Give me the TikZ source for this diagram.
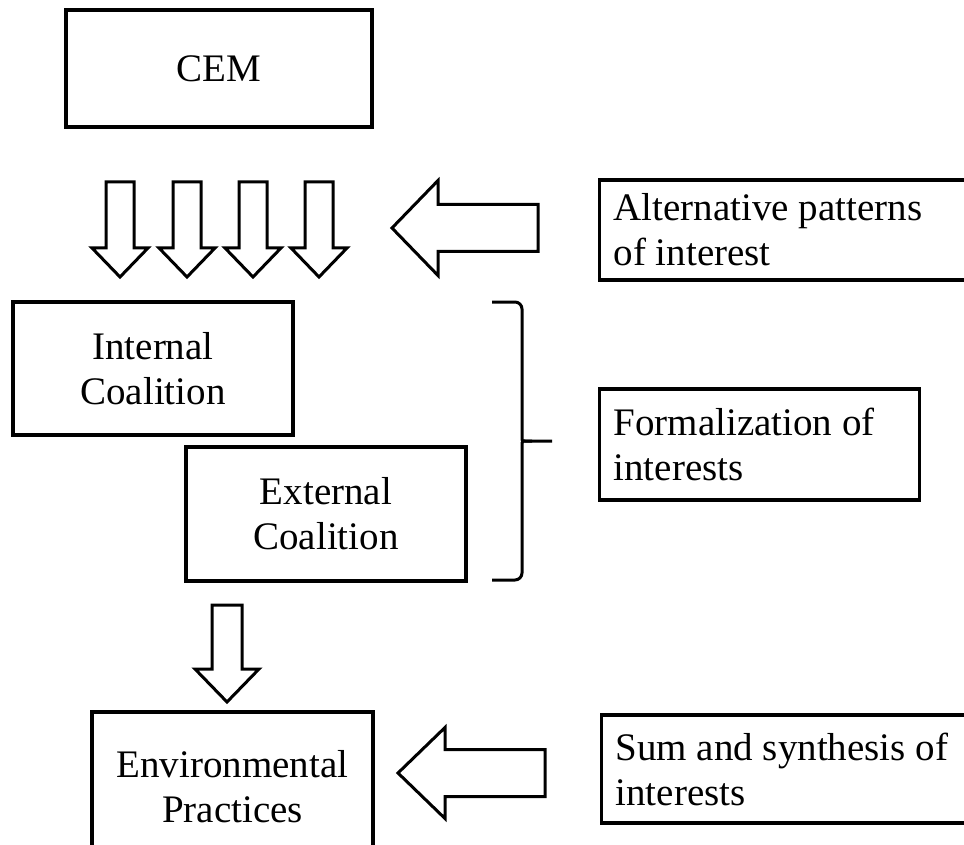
\documentclass[tikz,border=0pt]{standalone}
\usepackage{fontspec}
\setmainfont{Liberation Serif}
\usepackage{tikz}

\begin{document}
\begin{tikzpicture}[x=1pt, y=-1pt,
    every node/.style={font=\fontsize{39}{45}\selectfont},
    box/.style={draw, line width=3.2pt, inner sep=0pt, align=center},
    sidebox/.style={draw, line width=3.2pt, inner xsep=14pt, inner ysep=0pt, align=flush left, text width=354pt, minimum width=382pt},
    blockline/.style={draw, line width=3pt, fill=white, line join=miter},
    bracestyle/.style={draw, line width=3pt, rounded corners=7pt},
    pics/downblock/.style args={#1/#2/#3/#4}{code={
      \draw[blockline] (-#1,0) -- (-#1,#3-#4) -- (-#2,#3-#4) -- (0,#3) -- (#2,#3-#4) -- (#1,#3-#4) -- (#1,0) -- cycle;}},
    pics/leftblock/.style args={#1/#2/#3/#4}{code={
      \draw[blockline] (0,0) -- (#4,-#2) -- (#4,-#1) -- (#3,-#1) -- (#3,#1) -- (#4,#1) -- (#4,#2) -- cycle;}}]
  \clip (0,0) rectangle (964,845);

  % left column
  \node[box, minimum width=306pt, minimum height=117pt] (cem) at (219,68.5) {CEM};
  \node[box, minimum width=280pt, minimum height=133pt] (intc) at (153,368.5) {Internal\\Coalition};
  \node[box, minimum width=280pt, minimum height=134pt] (extc) at (326,514) {External\\Coalition};
  \node[box, minimum width=281pt, minimum height=150pt] (envp) at (232.5,787) {Environmental\\Practices};

  % right column
  \node[sidebox, minimum height=100pt, anchor=west] (altp) at (598,230) {Alternative patterns\\of interest};
  \node[sidebox, text width=292pt, minimum width=320pt, minimum height=111pt, anchor=west] (form) at (598,444.5) {Formalization of\\interests};
  \node[sidebox, minimum height=108pt, anchor=west] (sums) at (600,769) {Sum and synthesis of\\interests};

  % block arrows
  \pic at (120,182) {downblock={14/28/95/29}};
  \pic at (187,182) {downblock={14/28/95/29}};
  \pic at (253,182) {downblock={14/28/95/29}};
  \pic at (319,182) {downblock={14/28/95/29}};
  \pic at (392,228) {leftblock={23.5/47.5/146/46}};
  \pic at (227,605) {downblock={15/32/97/33}};
  \pic at (398,773) {leftblock={23.5/45.5/147/47}};

  % brace
  \coordinate (bracetop) at (492,302);
  \coordinate (bracebot) at (492,580);
  \coordinate (bracetip) at (552,441);
  \draw[bracestyle] (bracetop) -- (522,302) -- (522,432) .. controls (522,441) .. (532,441) -- (bracetip);
  \draw[bracestyle] (bracebot) -- (522,580) -- (522,450) .. controls (522,441) .. (532,441);
\end{tikzpicture}
\end{document}
